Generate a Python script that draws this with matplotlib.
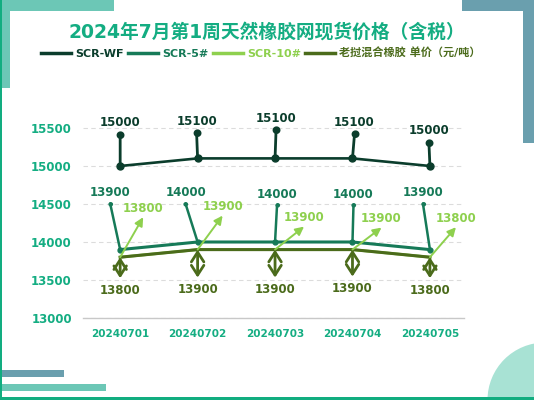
import matplotlib
matplotlib.use("Agg")
import matplotlib.pyplot as plt
from matplotlib.patches import Rectangle, Circle, FancyArrowPatch
from matplotlib.lines import Line2D

plt.rcParams['font.family'] = ['DejaVu Sans', 'Noto Sans CJK SC']

# ---------------- data ----------------
dates = ["20240701", "20240702", "20240703", "20240704", "20240705"]
scr_wf = [15000, 15100, 15100, 15100, 15000]
scr_5 = [13900, 14000, 14000, 14000, 13900]
scr_10 = [13800, 13900, 13900, 13900, 13800]
laos_mix = [13800, 13900, 13900, 13900, 13800]
series_names = ["SCR-WF", "SCR-5#", "SCR-10#", "老挝混合橡胶 单价（元/吨）"]
title = "2024年7月第1周天然橡胶网现货价格（含税）"
yticks = [13000, 13500, 14000, 14500, 15000, 15500]

# ---------------- style ----------------
C_WF = "#0b3d2c"
C_5 = "#167a58"
C_10 = "#8ed04e"
C_MIX = "#4b6b1b"
C_TEAL = "#14ad82"
C_BORDER = "#12ad80"
C_LTEAL = "#6cc7b6"
C_BLUE = "#6a9fae"

W, H = 534, 400
fig = plt.figure(figsize=(W / 100, H / 100), dpi=100)
fig.patch.set_facecolor("white")


def prect(x0, y0, x1, y1, color):
    # pixel coords from top-left
    fig.patches.append(Rectangle((x0 / W, 1 - y1 / H), (x1 - x0) / W, (y1 - y0) / H,
                                 transform=fig.transFigure, color=color, zorder=0, lw=0))

# decorations
prect(0, 0, 114, 11, C_LTEAL)
prect(0, 0, 10, 88, C_LTEAL)
prect(462, 0, 534, 11, C_BLUE)
prect(523, 0, 534, 143, C_BLUE)
prect(0, 370, 64, 377, C_BLUE)
prect(0, 384, 106, 391, C_LTEAL)
fig.patches.append(Circle((5.45, 0.0), 0.575, transform=fig.dpi_scale_trans,
                          color="#a8e2d4", zorder=0, lw=0))
prect(0, 397, 534, 400, C_BORDER)
prect(0, 0, 2, 400, C_BORDER)

# axes
left, right = 83, 464
top_px, bot_px = 112.8, 318
ax = fig.add_axes([left / W, 1 - bot_px / H, (right - left) / W, (bot_px - top_px) / H])
ax.set_facecolor("none")
x = list(range(len(dates)))
ax.set_xlim(-0.48, 4.44)
ax.set_ylim(13000, 15700)
ax.set_yticks(yticks)
ax.set_xticks(x)
ax.set_xticklabels(dates)
for s in ["top", "right", "left"]:
    ax.spines[s].set_visible(False)
ax.spines["bottom"].set_color("#c8c8c8")
ax.spines["bottom"].set_linewidth(1)
ax.grid(axis="y", linestyle=(0, (4, 3)), color="#dcdcdc", lw=0.8)
ax.set_axisbelow(True)
ax.tick_params(axis="both", length=0)
ax.tick_params(axis="y", pad=8, labelcolor=C_TEAL, labelsize=8.5)
ax.tick_params(axis="x", pad=8, labelcolor=C_TEAL, labelsize=7.5)
for lab in ax.get_yticklabels() + ax.get_xticklabels():
    lab.set_fontweight("bold")

# lines
ax.plot(x, scr_wf, color=C_WF, lw=1.9, marker="o", ms=5, zorder=5)
ax.plot(x, scr_5, color=C_5, lw=2.2, marker="o", ms=3.5, zorder=5)
ax.plot(x, scr_10, color=C_10, lw=2.0, zorder=4)
ax.plot(x, laos_mix, color=C_MIX, lw=2.2, zorder=5)

# annotation offsets (pixels; dy positive = upward)
wf_off = [(0, 31), (-1, 25), (1, 28), (2, 24), (-1, 23)]
s5_off = [(-10, 46), (-12, 38), (2, 37), (1, 37), (-7, 46)]
s10_off = [(23, 40), (25, 34), (29, 23), (29, 22), (26, 30)]
mix_len = [21, 28, 28, 27, 21]

for i in x:
    # SCR-WF pins
    dx, dy = wf_off[i]
    ax.annotate("", xy=(i, scr_wf[i]), xytext=(dx, dy), textcoords="offset pixels",
                arrowprops=dict(arrowstyle="-", color=C_WF, lw=2, shrinkA=0, shrinkB=0), zorder=6)
    ax.annotate("●", xy=(i, scr_wf[i]), xytext=(dx, dy), textcoords="offset pixels",
                ha="center", va="center", color=C_WF, fontsize=7.5, zorder=7)
    ax.annotate(f"{scr_wf[i]}", xy=(i, scr_wf[i]), xytext=(dx, dy + 12), textcoords="offset pixels",
                ha="center", va="center", color=C_WF, fontsize=8.5, fontweight="bold", zorder=7)
    # SCR-5# pins
    dx, dy = s5_off[i]
    ax.annotate("", xy=(i, scr_5[i]), xytext=(dx, dy), textcoords="offset pixels",
                arrowprops=dict(arrowstyle="-", color=C_5, lw=1.8, shrinkA=0, shrinkB=0), zorder=6)
    ax.annotate("●", xy=(i, scr_5[i]), xytext=(dx, dy), textcoords="offset pixels",
                ha="center", va="center", color=C_5, fontsize=4.5, zorder=7)
    ax.annotate(f"{scr_5[i]}", xy=(i, scr_5[i]), xytext=(dx, dy + 11), textcoords="offset pixels",
                ha="center", va="center", color=C_5, fontsize=8.5, fontweight="bold", zorder=7)
    # SCR-10# labels
    dx, dy = s10_off[i]
    ax.annotate(f"{scr_10[i]}", xy=(i, scr_10[i]), xytext=(dx, dy + 9), textcoords="offset pixels",
                ha="center", va="center", color=C_10, fontsize=8.5, fontweight="bold", zorder=7)
    # laos mixed labels
    ax.annotate(f"{laos_mix[i]}", xy=(i, laos_mix[i]), xytext=(0, -(mix_len[i] + 12)),
                textcoords="offset pixels",
                ha="center", va="center", color=C_MIX, fontsize=8.5, fontweight="bold", zorder=7)

# arrows drawn in display pixels
for i in x:
    X, Y = ax.transData.transform((i, scr_10[i]))
    dx, dy = s10_off[i]
    fig.patches.append(FancyArrowPatch((X, Y), (X + dx, Y + dy), transform=None,
                                       arrowstyle="-|>,head_length=5,head_width=2.5",
                                       color=C_10, lw=1.4, shrinkA=0, shrinkB=0, zorder=6))
    X, Y = ax.transData.transform((i, laos_mix[i]))
    fig.patches.append(FancyArrowPatch((X, Y), (X, Y - mix_len[i]), transform=None,
                                       arrowstyle="<->,head_length=7,head_width=4.5",
                                       color=C_MIX, lw=2, shrinkA=0, shrinkB=0, zorder=6))

# title
fig.text(267 / W, 1 - 32 / H, title, ha="center", va="center", color=C_TEAL,
         fontsize=13.5, fontweight="bold")

# legend
handles = [Line2D([], [], color=c, lw=2.5) for c in [C_WF, C_5, C_10, C_MIX]]
fig.legend(handles, series_names, loc="center", bbox_to_anchor=(261 / W, 1 - 53 / H),
           ncol=4, frameon=False, handlelength=2.7, handletextpad=0.4,
           columnspacing=0.35, labelcolor=[C_WF, C_5, C_10, C_MIX],
           prop=dict(weight="bold", size=8))

fig.savefig("out.png", dpi=100)
